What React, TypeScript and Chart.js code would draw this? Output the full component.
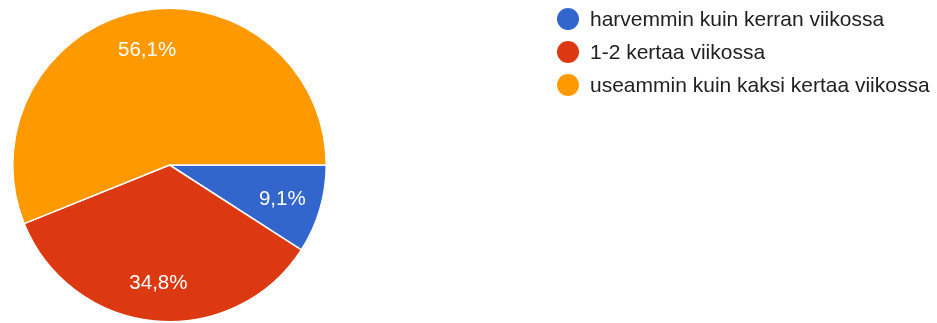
import React, { useEffect, useRef } from "react";
import { Chart, registerables } from "chart.js";

Chart.register(...registerables);

const categories = [
  "harvemmin kuin kerran viikossa",
  "1-2 kertaa viikossa",
  "useammin kuin kaksi kertaa viikossa",
];
const values = [9.1, 34.8, 56.1];
const valueLabels = ["9,1%", "34,8%", "56,1%"];
const colors = ["#3366cc", "#dc3912", "#ff9900"];

const FONT = "'Liberation Sans', Arial, sans-serif";

const labelPlugin = {
  id: "sliceLabels",
  afterDatasetsDraw(chart: any) {
    const ctx = chart.ctx;
    const meta = chart.getDatasetMeta(0);
    ctx.save();
    ctx.fillStyle = "#ffffff";
    ctx.font = `20.5px ${FONT}`;
    ctx.textAlign = "center";
    ctx.textBaseline = "middle";
    meta.data.forEach((arc: any, i: number) => {
      const { x, y, startAngle, endAngle, outerRadius } = arc.getProps(
        ["x", "y", "startAngle", "endAngle", "outerRadius"],
        true
      );
      const mid = (startAngle + endAngle) / 2;
      const r = outerRadius * 0.75;
      ctx.fillText(valueLabels[i], x + Math.cos(mid) * r, y + Math.sin(mid) * r + 1);
    });
    ctx.restore();
  },
};

const legendPlugin = {
  id: "customLegend",
  afterDraw(chart: any) {
    const ctx = chart.ctx;
    ctx.save();
    ctx.font = `21px ${FONT}`;
    ctx.textBaseline = "middle";
    ctx.textAlign = "left";
    const x0 = 568;
    const y0 = 19;
    const step = 33;
    chart.data.labels.forEach((label: string, i: number) => {
      const y = y0 + i * step;
      ctx.beginPath();
      ctx.arc(x0, y, 11, 0, Math.PI * 2);
      ctx.fillStyle = chart.data.datasets[0].backgroundColor[i];
      ctx.fill();
      ctx.fillStyle = "#212121";
      ctx.fillText(label, x0 + 22, y + 1);
    });
    ctx.restore();
  },
};

export default function App() {
  const ref = useRef<HTMLCanvasElement | null>(null);
  useEffect(() => {
    document.body.style.margin = "0";
    const chart = new Chart(ref.current as HTMLCanvasElement, {
      type: "pie",
      data: {
        labels: categories,
        datasets: [
          {
            data: values,
            backgroundColor: colors,
            borderColor: "#ffffff",
            borderWidth: 1.5,
          },
        ],
      },
      options: {
        responsive: false,
        animation: false,
        rotation: 90,
        layout: { padding: { left: 12, right: 610, top: 7, bottom: 0 } },
        plugins: {
          legend: { display: false },
          tooltip: { enabled: false },
        },
      },
      plugins: [labelPlugin, legendPlugin],
    });
    return () => chart.destroy();
  }, []);
  return (
    <div style={{ width: 937, height: 323, background: "#fff" }}>
      <canvas ref={ref} width={937} height={323} />
    </div>
  );
}
